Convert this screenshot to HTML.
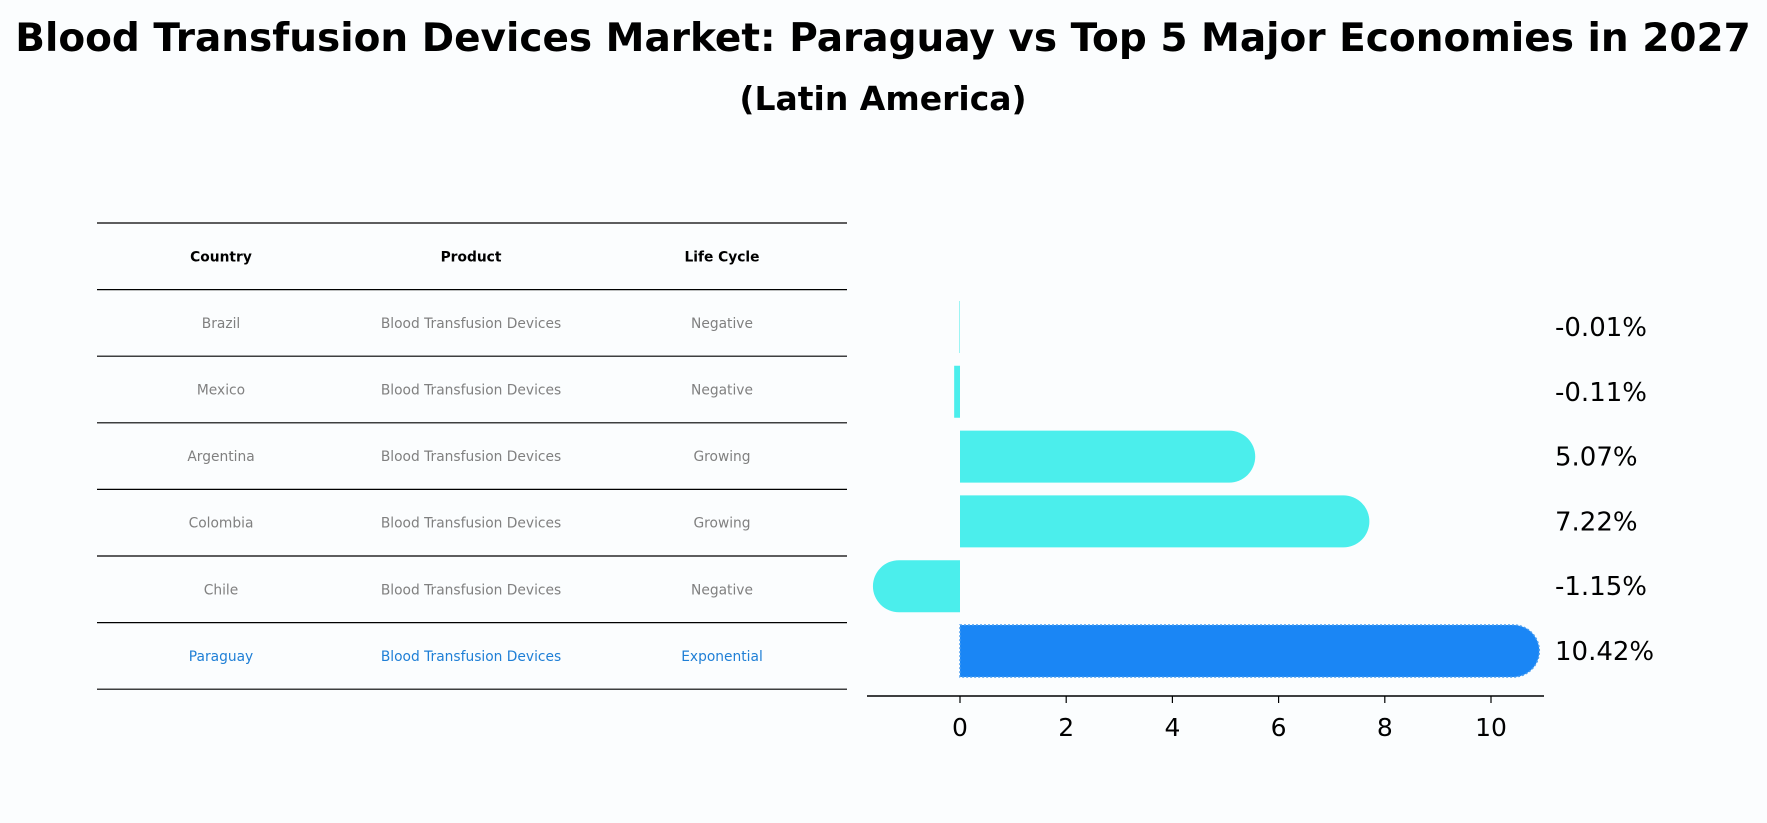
<!DOCTYPE html>
<html><head><meta charset="utf-8"><style>
html,body{margin:0;padding:0;background:#fbfdfe;}
svg{display:block;font-family:"DejaVu Sans","Liberation Sans",sans-serif;}
</style></head><body>
<svg id="c" width="1767" height="823" viewBox="0 0 1767 823">
<text x="883" y="51" text-anchor="middle" font-size="39" font-weight="bold" fill="#000">Blood Transfusion Devices Market: Paraguay vs Top 5 Major Economies in 2027</text>
<text x="883" y="110" text-anchor="middle" font-size="33" font-weight="bold" fill="#000">(Latin America)</text>
<g id="table"></g>
<g id="bars"></g>
</svg>
<script>
const countries = ["Brazil","Mexico","Argentina","Colombia","Chile","Paraguay"];
const products = ["Blood Transfusion Devices","Blood Transfusion Devices","Blood Transfusion Devices","Blood Transfusion Devices","Blood Transfusion Devices","Blood Transfusion Devices"];
const lifeCycles = ["Negative","Negative","Growing","Growing","Negative","Exponential"];
const values = [-0.01,-0.11,5.07,7.22,-1.15,10.42];
const valueLabels = ["-0.01%","-0.11%","5.07%","7.22%","-1.15%","10.42%"];
const xTicks = [0,2,4,6,8,10];
const headers = ["Country","Product","Life Cycle"];

const NS="http://www.w3.org/2000/svg";
function mk(tag,attrs,parent){const e=document.createElementNS(NS,tag);for(const k in attrs)e.setAttribute(k,attrs[k]);parent.appendChild(e);return e;}

// table
const tg=document.getElementById('table');
const tLeft=97,tRight=847,rowTop=223,rowH=66.6;
const colX=[221,471,722];
for(let i=0;i<=countries.length+1;i++){
  const y=rowTop+i*rowH;
  const l=mk('line',{x1:tLeft,x2:tRight,y1:y,y2:y,stroke:'#000','stroke-width':1.2},tg);
  
  
}
headers.forEach((h,j)=>{
  const t=mk('text',{x:colX[j],y:rowTop+rowH/2+5,'text-anchor':'middle','font-size':13.8,'font-weight':'bold',fill:'#000'},tg);
  t.textContent=h;
  
  
});
countries.forEach((c,i)=>{
  const y=rowTop+(i+1.5)*rowH+5;
  const col=c==="Paraguay"?'#1f7fd6':'#808080';
  [c,products[i],lifeCycles[i]].forEach((v,j)=>{
    const t=mk('text',{x:colX[j],y:y,'text-anchor':'middle','font-size':13.8,fill:col},tg);
    t.textContent=v;
    
    
  });
});

// bar chart
const bg=document.getElementById('bars');
const x0=960,scale=53.1;
const X=v=>x0+v*scale;
const rowY=i=>327+i*64.8;
const bh=52;
values.forEach((v,i)=>{
  const cy=rowY(i);
  const col=countries[i]==="Paraguay"?'#1a86f5':'#4beeec';
  const xv=X(v),r=bh/2;
  const a=Math.min(x0,xv),w=Math.abs(xv-x0);
  let d;
  if(w>r){
    if(v>=0) d=`M${x0},${cy-r} L${xv},${cy-r} A${r},${r} 0 0 1 ${xv},${cy+r} L${x0},${cy+r} Z`;
    else d=`M${x0},${cy-r} L${xv},${cy-r} A${r},${r} 0 0 0 ${xv},${cy+r} L${x0},${cy+r} Z`;
  } else {
    d=`M${a},${cy-r} h${w} v${bh} h${-w} Z`;
  }
  const p=mk('path',{d:d,fill:col},bg);
  if(countries[i]==="Paraguay"){p.setAttribute('stroke','#4a9ef0');p.setAttribute('stroke-dasharray','2 2');p.setAttribute('stroke-width','1.5');}
  
  
  const t=mk('text',{x:1555,y:cy+9,'font-size':26,fill:'#000'},bg);
  t.textContent=valueLabels[i];
  
  
});
const ax=mk('line',{x1:867,x2:1544,y1:696,y2:696,stroke:'#000','stroke-width':1.5},bg);


xTicks.forEach(v=>{
  const l=mk('line',{x1:X(v),x2:X(v),y1:696,y2:703,stroke:'#000','stroke-width':1.2},bg);
  
  
  const t=mk('text',{x:X(v),y:736,'text-anchor':'middle','font-size':25,fill:'#000'},bg);
  t.textContent=v;
  
  
});
</script>
</body></html>
